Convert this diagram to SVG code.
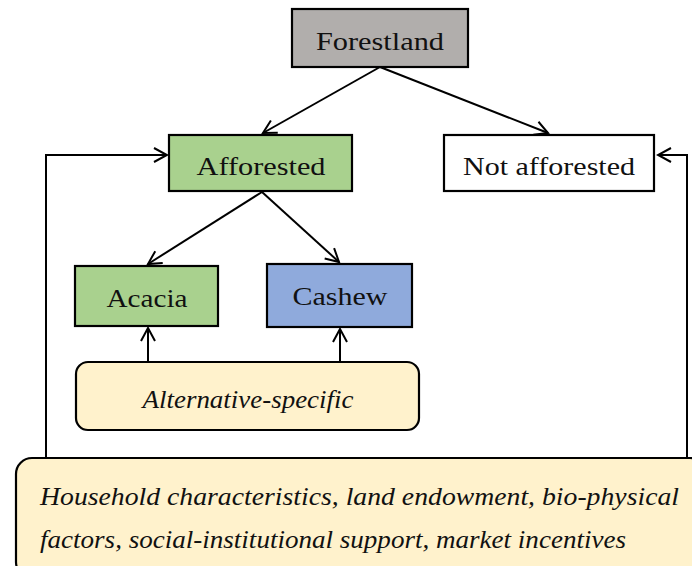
<svg xmlns="http://www.w3.org/2000/svg" width="692" height="566" viewBox="0 0 692 566">
<style>
.box{stroke:#000;stroke-width:2.2}
.t{font-family:"Liberation Serif","Times New Roman",serif;font-size:25px;fill:#111;text-anchor:middle}
.i{font-style:italic}
.c{fill:none;stroke:#000;stroke-width:2;marker-end:url(#ah)}
.cl{fill:none;stroke:#000;stroke-width:2}
</style>
<defs>
<marker id="ah" viewBox="-14 -8 16 16" markerWidth="16" markerHeight="16" refX="0" refY="0" orient="auto" markerUnits="userSpaceOnUse">
<path d="M-13,-7 L0,0 L-13,7" fill="none" stroke="#000" stroke-width="2"/>
</marker>
</defs>
<rect width="692" height="566" fill="#fff"/>
<g id="connectors">
<line class="c" x1="380" y1="67" x2="263" y2="133"/>
<line class="c" x1="380" y1="67" x2="548" y2="133"/>
<line class="c" x1="262" y1="192" x2="148" y2="264"/>
<line class="c" x1="262" y1="192" x2="339" y2="262"/>
<line class="c" x1="148" y1="362" x2="148" y2="328"/>
<line class="c" x1="340" y1="362" x2="340" y2="329"/>
<polyline class="c" points="46,458 46,155 167,155"/>
<polyline class="c" points="687,458 687,155 658,155"/>
</g>
<g id="forestland">
<rect class="box" x="292" y="9" width="176" height="58" fill="#b1aeac"/>
<text class="t" x="380" y="50" textLength="128" lengthAdjust="spacingAndGlyphs">Forestland</text>
</g>
<g id="afforested">
<rect class="box" x="169" y="135" width="183" height="56" fill="#a9d18e"/>
<text class="t" x="261" y="175" textLength="129" lengthAdjust="spacingAndGlyphs">Afforested</text>
</g>
<g id="not-afforested">
<rect class="box" x="444" y="135" width="210" height="56" fill="#fff"/>
<text class="t" x="549" y="175" textLength="172" lengthAdjust="spacingAndGlyphs">Not afforested</text>
</g>
<g id="acacia">
<rect class="box" x="75" y="266" width="143" height="60" fill="#a9d18e"/>
<text class="t" x="147" y="307" textLength="81" lengthAdjust="spacingAndGlyphs">Acacia</text>
</g>
<g id="cashew">
<rect class="box" x="267" y="264" width="145" height="63" fill="#8faadc"/>
<text class="t" x="340" y="305" textLength="95" lengthAdjust="spacingAndGlyphs">Cashew</text>
</g>
<g id="alternative-specific">
<rect class="box" x="76" y="362" width="343" height="68" rx="12" fill="#fff2cc"/>
<text class="t i" x="248" y="408" textLength="211" lengthAdjust="spacingAndGlyphs">Alternative-specific</text>
</g>
<g id="household">
<rect class="box" x="16" y="458" width="690" height="120" rx="16" fill="#fff2cc"/>
<text class="t i" x="40" y="505" style="text-anchor:start" textLength="639" lengthAdjust="spacingAndGlyphs">Household characteristics, land endowment, bio-physical</text>
<text class="t i" x="40" y="548" style="text-anchor:start" textLength="586" lengthAdjust="spacingAndGlyphs">factors, social-institutional support, market incentives</text>
</g>
</svg>
